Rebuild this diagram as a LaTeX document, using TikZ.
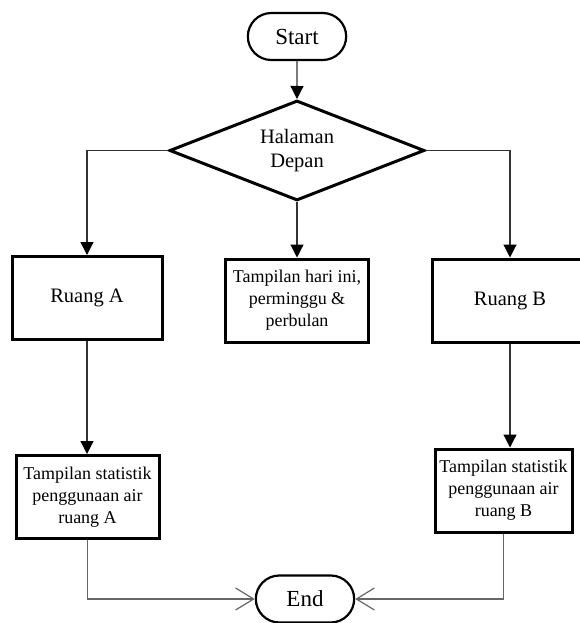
\documentclass[tikz,border=0pt]{standalone}
\usepackage{fontspec}
\setmainfont{Liberation Serif}
\usetikzlibrary{shapes.geometric,shapes.misc,arrows.meta}

\tikzset{
  terminal/.style={rounded rectangle, draw, line width=2.2pt, minimum width=105pt,
    minimum height=47pt, font=\fontsize{23}{26}\selectfont},
  decision/.style={diamond, draw, line width=3pt, aspect=2.55, inner sep=0pt,
    minimum width=255pt, minimum height=100pt, align=center,
    font=\fontsize{20.5}{24}\selectfont},
  process/.style={rectangle, draw, line width=3pt, minimum width=150pt,
    minimum height=83pt, font=\fontsize{20.5}{24}\selectfont},
  smallproc/.style={rectangle, draw, line width=3pt, minimum width=143pt,
    minimum height=83pt, inner sep=3pt, align=center,
    font=\fontsize{18}{22}\selectfont},
  flow/.style={line width=1.2pt, draw=black!80, -{Triangle[width=13pt,length=13pt,black]}},
  joinflow/.style={line width=1.2pt, draw=black!60, -{Straight Barb[length=18pt,width=22pt]}}
}

\begin{document}
\begin{tikzpicture}[x=1pt,y=-1pt]
  \useasboundingbox (0,0) rectangle (579,623);

  \node[terminal] (start) at (297,36.5) {Start};
  \node[decision] (home) at (297,150.5) {Halaman\\Depan};
  \node[process] (ruangA) at (87,298) {Ruang A};
  \node[smallproc] (hari) at (297,300.5) {Tampilan hari ini,\\perminggu \&\\perbulan};
  \node[process, minimum width=156pt] (ruangB) at (510,300.5) {Ruang B};
  \node[smallproc] (statA) at (87.5,497) {Tampilan statistik\\penggunaan air\\ruang A};
  \node[smallproc, minimum width=137pt] (statB) at (503.5,490.5) {Tampilan statistik\\penggunaan air\\ruang B};
  \node[terminal] (end) at (305,599) {End};

  \draw[flow] (start) -- (home);
  \draw[flow] (home.west) -| (ruangA.north);
  \draw[flow] (home) -- (hari);
  \draw[flow] (home.east) -| (ruangB.north);
  \draw[flow] (ruangA.south) -- (ruangA.south |- statA.north);
  \draw[flow] (ruangB.south) -- (ruangB.south |- statB.north);

  \draw[joinflow] (statA.south) |- (end.west);
  \draw[joinflow] (statB.south) |- (end.east);
\end{tikzpicture}
\end{document}
